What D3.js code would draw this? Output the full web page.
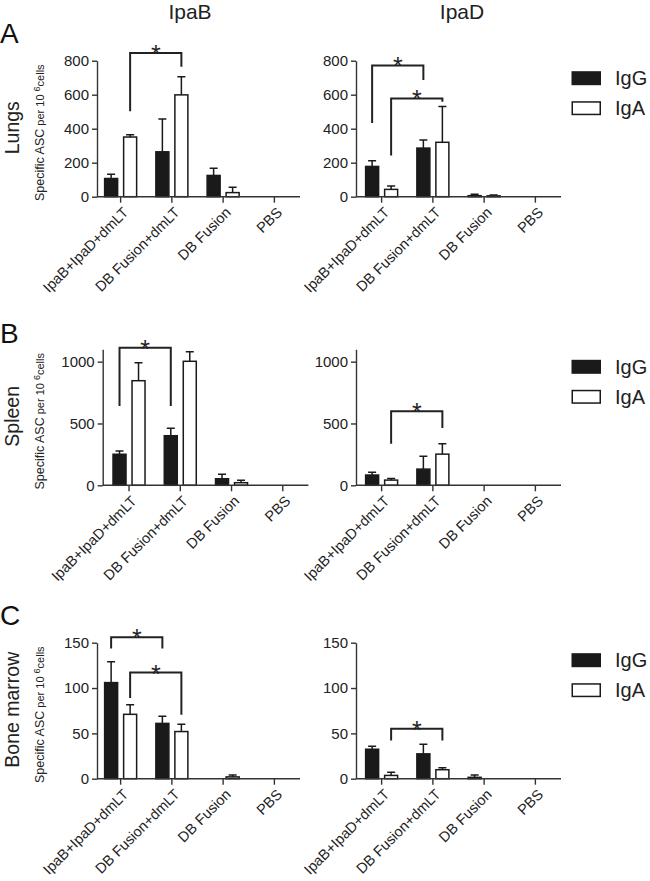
<!DOCTYPE html>
<html>
<head>
<meta charset="utf-8">
<script src="https://cdnjs.cloudflare.com/ajax/libs/d3/7.8.5/d3.min.js"></script>
<style>
  body { margin: 0; background: #fff; }
  svg { font-family: "Liberation Sans", Arial, sans-serif; }
</style>
</head>
<body>
<div id="chart"></div>
<script>
// categories
const groups = ["IpaB+IpaD+dmLT", "DB Fusion+dmLT", "DB Fusion", "PBS"];
const series = ["IgG", "IgA"];
const antigens = ["IpaB", "IpaD"];
const organs = ["Lungs", "Spleen", "Bone marrow"];
const panelLetters = ["A", "B", "C"];

// y axes
const yMax = [800, 1100, 150];
const lungsTicks = [0, 200, 400, 600, 800];
const spleenTicks = [0, 500, 1000];
const marrowTicks = [0, 50, 100, 150];

// means and SEM (upper error only)
const lungsIpaB_IgG = [107, 264, 125, 0];
const lungsIpaB_IgG_err = [25, 193, 42, 0];
const lungsIpaB_IgA = [351, 599, 24, 0];
const lungsIpaB_IgA_err = [14, 107, 31, 0];
const lungsIpaD_IgG = [178, 286, 6, 0];
const lungsIpaD_IgG_err = [33, 47, 9, 0];
const lungsIpaD_IgA = [43, 320, 5, 0];
const lungsIpaD_IgA_err = [20, 211, 5, 0];

const spleenIpaB_IgG = [251, 401, 53, 0];
const spleenIpaB_IgG_err = [26, 60, 36, 0];
const spleenIpaB_IgA = [846, 1003, 21, 0];
const spleenIpaB_IgA_err = [146, 78, 19, 0];
const spleenIpaD_IgG = [83, 131, 0, 0];
const spleenIpaD_IgG_err = [22, 103, 0, 0];
const spleenIpaD_IgA = [42, 252, 0, 0];
const spleenIpaD_IgA_err = [13, 84, 0, 0];

const marrowIpaB_IgG = [106, 61, 0, 0];
const marrowIpaB_IgG_err = [23, 8, 0, 0];
const marrowIpaB_IgA = [71, 52, 2, 0];
const marrowIpaB_IgA_err = [10.5, 8, 2, 0];
const marrowIpaD_IgG = [32.5, 27.4, 1.5, 0];
const marrowIpaD_IgG_err = [3.2, 10.6, 2.5, 0];
const marrowIpaD_IgA = [3.6, 9.9, 0, 0];
const marrowIpaD_IgA_err = [3.4, 2.1, 0, 0];

// significance brackets: [group, series] -> [group, series], top value, left leg end, right leg end
const lungsIpaB_sig = [[0, "IgA", 1, "IgA", 845, 503, 765]];
const lungsIpaD_sig = [[0, "IgG", 1, "IgG", 772, 434, 686], [0, "IgA", 1, "IgA", 578, 243, 558]];
const spleenIpaB_sig = [[0, "IgG", 1, "IgG", 1113, 642, 642]];
const spleenIpaD_sig = [[0, "IgA", 1, "IgA", 599, 337, 464]];
const marrowIpaB_sig = [[0, "IgG", 1, "IgG", 156, 143.6, 143.6], [0, "IgA", 1, "IgA", 117, 89, 70.5]];
const marrowIpaD_sig = [[0, "IgA", 1, "IgA", 55, 42, 42]];

const panels = [
  { row: 0, col: 0, ticks: lungsTicks, IgG: lungsIpaB_IgG, IgGerr: lungsIpaB_IgG_err, IgA: lungsIpaB_IgA, IgAerr: lungsIpaB_IgA_err, sig: lungsIpaB_sig },
  { row: 0, col: 1, ticks: lungsTicks, IgG: lungsIpaD_IgG, IgGerr: lungsIpaD_IgG_err, IgA: lungsIpaD_IgA, IgAerr: lungsIpaD_IgA_err, sig: lungsIpaD_sig },
  { row: 1, col: 0, ticks: spleenTicks, IgG: spleenIpaB_IgG, IgGerr: spleenIpaB_IgG_err, IgA: spleenIpaB_IgA, IgAerr: spleenIpaB_IgA_err, sig: spleenIpaB_sig },
  { row: 1, col: 1, ticks: spleenTicks, IgG: spleenIpaD_IgG, IgGerr: spleenIpaD_IgG_err, IgA: spleenIpaD_IgA, IgAerr: spleenIpaD_IgA_err, sig: spleenIpaD_sig },
  { row: 2, col: 0, ticks: marrowTicks, IgG: marrowIpaB_IgG, IgGerr: marrowIpaB_IgG_err, IgA: marrowIpaB_IgA, IgAerr: marrowIpaB_IgA_err, sig: marrowIpaB_sig },
  { row: 2, col: 1, ticks: marrowTicks, IgG: marrowIpaD_IgG, IgGerr: marrowIpaD_IgG_err, IgA: marrowIpaD_IgA, IgAerr: marrowIpaD_IgA_err, sig: marrowIpaD_sig }
];

// layout
let width = 650,
    height = 881;
const rowTop = [60.7, 349.3, 642.7];
const plotH = 136;
const axisX = [[97, 356], [102.7, 356], [97, 356]];
const bandStart = [[95, 356], [103.4, 356], [95, 356]];
const bandW = 205;
const colCenter = [190, 462];
const ink = "#1a1a1a";

let svg = d3.select("#chart").append("svg")
  .attr("width", width)
  .attr("height", height);

// column titles
svg.selectAll(".coltitle")
  .data(antigens)
  .enter().append("text")
    .attr("class", "coltitle")
    .attr("x", (d, i) => colCenter[i])
    .attr("y", 18.5)
    .attr("text-anchor", "middle")
    .attr("font-size", 21)
    .attr("fill", "#222")
    .text(d => d);

// row letters and organ labels
organs.forEach((organ, r) => {
  let top = rowTop[r];
  svg.append("text")
    .attr("x", 0)
    .attr("y", [43, 343, 625][r])
    .attr("font-size", 28)
    .attr("fill", "#111")
    .text(panelLetters[r]);

  svg.append("text")
    .attr("transform", `translate(19,${top + plotH / 2 - 1}) rotate(-90)`)
    .attr("text-anchor", "middle")
    .attr("font-size", 19.5)
    .attr("fill", "#222")
    .text(organ);

  let lab = svg.append("text")
    .attr("transform", `translate(43.5,${top + plotH / 2 + 4}) rotate(-90)`)
    .attr("text-anchor", "middle")
    .attr("fill", "#222");
  lab.append("tspan").attr("font-size", 12.5).text("Specific ASC");
  lab.append("tspan").attr("font-size", 11).text(" per 10 ");
  lab.append("tspan").attr("font-size", 9).attr("dy", -4).text("6");
  lab.append("tspan").attr("font-size", 11).attr("dy", 4).text("cells");

  // legend
  let lg = svg.append("g").attr("transform", `translate(571.5,${top + 10.5})`);
  series.forEach((s, i) => {
    lg.append("rect")
      .attr("x", 0.75)
      .attr("y", i * 30 + 0.75)
      .attr("width", 28)
      .attr("height", 12.5)
      .attr("fill", s === "IgG" ? ink : "#fff")
      .attr("stroke", ink)
      .attr("stroke-width", 1.5);
    lg.append("text")
      .attr("x", 43.5)
      .attr("y", i * 30 + 14)
      .attr("font-size", 20)
      .attr("fill", "#222")
      .text(s);
  });
});

panels.forEach(p => {
  let top = rowTop[p.row];
  let ax = axisX[p.row][p.col];
  let bx = bandStart[p.row][p.col];

  let x = d3.scaleBand().domain(groups).range([bx, bx + bandW]);
  let xs = d3.scaleBand().domain(series).range([-16, 16]).paddingInner(0.316);
  let y = d3.scaleLinear().domain([0, yMax[p.row]]).range([top + plotH, top]);
  let cx = (gi, s) => x(groups[gi]) + x.bandwidth() / 2 + xs(s) + xs.bandwidth() / 2;

  let g = svg.append("g");

  // bars + error bars
  series.forEach(s => {
    let vals = p[s], errs = p[s + "err"];
    let cells = groups.map((grp, i) => ({ grp, i, v: vals[i], e: errs[i] }));

    g.selectAll(".err" + s)
      .data(cells.filter(d => d.e > 0))
      .enter().append("path")
        .attr("d", d => {
          let c = cx(d.i, s), y0 = y(d.v), y1 = y(d.v + d.e);
          return `M${c},${y0}V${y1}M${c - 4},${y1}H${c + 4}`;
        })
        .attr("fill", "none")
        .attr("stroke", ink)
        .attr("stroke-width", 1.5);

    g.selectAll(".bar" + s)
      .data(cells.filter(d => d.v > 0))
      .enter().append("rect")
        .attr("x", d => x(d.grp) + x.bandwidth() / 2 + xs(s))
        .attr("y", d => y(d.v))
        .attr("width", xs.bandwidth())
        .attr("height", d => y(0) - y(d.v))
        .attr("fill", s === "IgG" ? ink : "#fff")
        .attr("stroke", ink)
        .attr("stroke-width", 1.5);
  });

  // y axis
  let ya = g.append("g")
    .attr("transform", `translate(${ax},0)`)
    .call(d3.axisLeft(y).tickValues(p.ticks).tickFormat(d3.format("d"))
      .tickSize(5).tickPadding(3).tickSizeOuter(0));
  ya.selectAll("text").attr("font-size", 15).attr("fill", "#222").attr("font-family", null);
  ya.selectAll("line, path").attr("stroke", "#333").attr("stroke-width", 1.4);

  // x axis
  let xa = g.append("g")
    .attr("transform", `translate(0,${y(0)})`)
    .call(d3.axisBottom(x).tickSize(6).tickFormat(""));
  xa.select(".domain").remove();
  xa.selectAll("line").attr("stroke", "#333").attr("stroke-width", 1.4);
  xa.append("line")
    .attr("x1", ax).attr("x2", bx + bandW)
    .attr("stroke", "#333").attr("stroke-width", 1.4);

  g.selectAll(".xlab")
    .data(groups)
    .enter().append("text")
      .attr("transform", d => `translate(${x(d) + x.bandwidth() / 2 + 5},${y(0) + 13}) rotate(-45)`)
      .attr("text-anchor", "end")
      .attr("dy", "0.35em")
      .attr("font-size", 14.5)
      .attr("fill", "#222")
      .text(d => d);

  // significance brackets
  p.sig.forEach(b => {
    let x0 = cx(b[0], b[1]), x1 = cx(b[2], b[3]);
    let yt = y(b[4]);
    g.append("path")
      .attr("d", `M${x0},${y(b[5])}V${yt}H${x1}V${y(b[6])}`)
      .attr("fill", "none")
      .attr("stroke", "#222")
      .attr("stroke-width", 2);
    g.append("text")
      .attr("x", (x0 + x1) / 2)
      .attr("y", yt + 10)
      .attr("text-anchor", "middle")
      .attr("font-size", 25)
      .attr("fill", "#222")
      .text("*");
  });
});
</script>
</body>
</html>
